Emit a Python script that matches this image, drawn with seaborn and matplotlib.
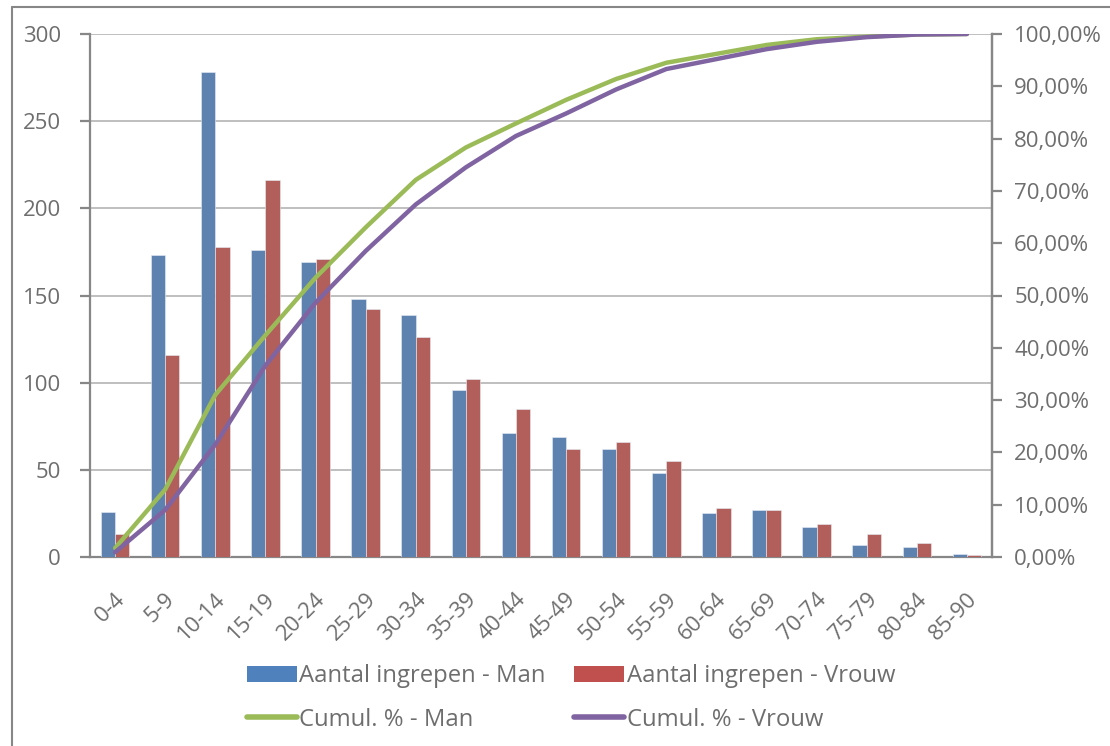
import matplotlib
matplotlib.use("Agg")
import matplotlib.pyplot as plt
import matplotlib.ticker as mticker
import matplotlib.transforms as mtransforms
from matplotlib.patches import Patch
from matplotlib.lines import Line2D
import seaborn as sns
import pandas as pd
import numpy as np

categories = ["0-4", "5-9", "10-14", "15-19", "20-24", "25-29", "30-34", "35-39", "40-44",
              "45-49", "50-54", "55-59", "60-64", "65-69", "70-74", "75-79", "80-84", "85-90"]
ingrepen_man = [26, 173, 278, 176, 169, 148, 139, 96, 71, 69, 62, 48, 25, 27, 17, 7, 6, 2]
ingrepen_vrouw = [13, 116, 178, 216, 171, 142, 126, 102, 85, 62, 66, 55, 28, 27, 19, 13, 8, 1]
cumul_man = [1.7, 12.9, 31.0, 42.4, 53.4, 63.0, 72.1, 78.3, 82.9, 87.4, 91.4, 94.5, 96.2, 97.9, 99.0, 99.5, 99.9, 100.0]
cumul_vrouw = [0.9, 9.0, 21.5, 36.6, 48.6, 58.5, 67.4, 74.5, 80.5, 84.8, 89.4, 93.3, 95.2, 97.1, 98.5, 99.4, 99.9, 100.0]

lab_bm = "Aantal ingrepen - Man"
lab_bv = "Aantal ingrepen - Vrouw"
lab_lm = "Cumul. % - Man"
lab_lv = "Cumul. % - Vrouw"

sns.set_style("white")
plt.rcParams['font.family'] = ['Open Sans', 'DejaVu Sans']

C_BLUE = "#4F81BD"
C_RED = "#C0504D"
C_GREEN = "#9BBB59"
C_PURPLE = "#8064A2"
TXT = "#6E6E6E"
AX = "#878787"
GRID = "#BFBFBF"
FS = 16

bars = pd.DataFrame({
    "cat": categories * 2,
    "val": ingrepen_man + ingrepen_vrouw,
    "serie": [lab_bm] * len(categories) + [lab_bv] * len(categories),
})

fig = plt.figure(figsize=(11.1, 7.46), dpi=100)
ax = fig.add_axes([90 / 1110, 1 - 557 / 746, (992 - 90) / 1110, (557 - 34) / 746])

sns.barplot(data=bars, x="cat", y="val", hue="serie", order=categories,
            palette=[C_BLUE, C_RED], width=0.57, ax=ax, legend=False,
            edgecolor="#E8EEF7", linewidth=0.4, zorder=3)

ax.set_xlim(-0.5, len(categories) - 0.5)
ax.set_ylim(0, 300)
ax.set_yticks(np.arange(0, 301, 50))
ax.set_xlabel("")
ax.set_ylabel("")
ax.yaxis.grid(True, color=GRID, linewidth=1.4, zorder=0)
ax.set_axisbelow(True)
ax.spines["top"].set_visible(False)
for s in ["left", "right", "bottom"]:
    ax.spines[s].set_color(AX)
    ax.spines[s].set_linewidth(1.6)

# x ticks at category boundaries, labels at centres
ax.set_xticks(np.arange(-0.5, len(categories), 1.0))
ax.set_xticklabels([])
ax.set_xticks(np.arange(len(categories)), minor=True)
ax.set_xticklabels(categories, minor=True, rotation=45, ha="right", va="center",
                   rotation_mode="anchor", fontsize=FS, color=TXT)
ax.tick_params(axis="x", which="major", direction="out", length=7, width=1.6, color=AX)
ax.tick_params(axis="x", which="minor", length=0, pad=28)
offset = mtransforms.ScaledTranslation(7 / 100, 0, fig.dpi_scale_trans)
for lbl in ax.get_xticklabels(minor=True):
    lbl.set_transform(lbl.get_transform() + offset)
ax.tick_params(axis="y", direction="out", length=7, width=1.6, color=AX,
               labelsize=FS, labelcolor=TXT, pad=14)

ax2 = ax.twinx()
xs = np.arange(len(categories))
sns.lineplot(x=xs, y=cumul_man, ax=ax2, color=C_GREEN, linewidth=3.2, sort=False, legend=False)
sns.lineplot(x=xs, y=cumul_vrouw, ax=ax2, color=C_PURPLE, linewidth=3.2, sort=False, legend=False)
ax2.set_ylim(0, 100)
ax2.set_xlim(-0.5, len(categories) - 0.5)
ax2.set_yticks(np.arange(0, 101, 10))
ax2.yaxis.set_major_formatter(mticker.FuncFormatter(lambda v, p: f"{v:.2f}%".replace(".", ",")))
ax2.tick_params(axis="y", direction="out", length=7, width=1.6, color=AX,
                labelsize=FS, labelcolor=TXT, pad=9)
ax2.set_ylabel("")
for s in ["top", "left", "bottom"]:
    ax2.spines[s].set_visible(False)
ax2.spines["right"].set_color(AX)
ax2.spines["right"].set_linewidth(1.6)
ax2.grid(False)

handles = [
    Patch(facecolor=C_BLUE, edgecolor="none", label=lab_bm),
    Line2D([0], [0], color=C_GREEN, linewidth=4, label=lab_lm),
    Patch(facecolor=C_RED, edgecolor="none", label=lab_bv),
    Line2D([0], [0], color=C_PURPLE, linewidth=4, label=lab_lv),
]
leg = fig.legend(handles=handles, ncol=2, loc="center", bbox_to_anchor=(571 / 1110, 1 - 698 / 746),
                 frameon=False, fontsize=17.2, handlelength=2.1, handletextpad=0.1,
                 columnspacing=1.2, labelspacing=0.8, labelcolor=TXT)

# chart frame (top and left visible)
fig.add_artist(Line2D([12 / 1110, 1.0], [1 - 7 / 746, 1 - 7 / 746], color=AX, linewidth=1.5,
                      transform=fig.transFigure))
fig.add_artist(Line2D([12 / 1110, 12 / 1110], [0, 1 - 7 / 746], color=AX, linewidth=1.5,
                      transform=fig.transFigure))

fig.savefig("out.png", dpi=100, facecolor="white")
